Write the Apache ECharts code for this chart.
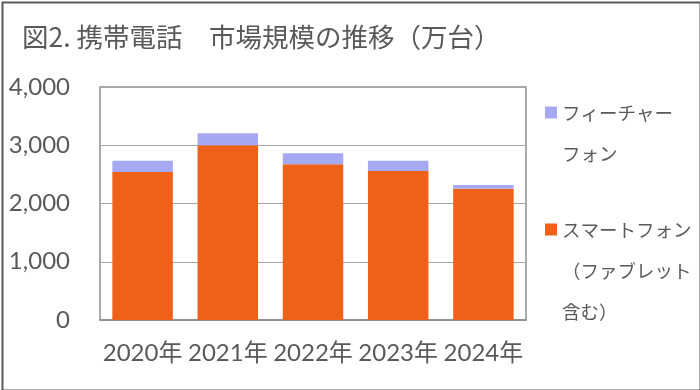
<!DOCTYPE html>
<html>
<head>
<meta charset="utf-8">
<script src="https://cdn.jsdelivr.net/npm/echarts@6/dist/echarts.min.js"></script>
<style>
html,body{margin:0;padding:0;background:#fff;}
#chart{width:700px;height:390px;}
</style>
</head>
<body>
<div id="chart"></div>
<script>
const titleText = '図2. 携帯電話　市場規模の推移（万台）';
const categories = ['2020年', '2021年', '2022年', '2023年', '2024年'];
const smartphone = [2540, 3000, 2675, 2560, 2252];
const featurePhone = [194, 205, 189, 172, 66];
const yTicks = { min: 0, max: 4000, interval: 1000 };
const seriesNames = ['スマートフォン（ファブレット含む）', 'フィーチャーフォン'];
// blank lines above keep the first line level with the legend icon
const legendLabels = [' \n \nスマートフォン\n（ファブレット\n含む）', ' \nフィーチャー\nフォン'];

const textColor = '#595959';
const fontFam = 'Lato, "Noto Sans CJK JP", sans-serif';
const jpFont = '"Noto Sans CJK JP", Lato, sans-serif';
const LH = 41;

const chart = echarts.init(document.getElementById('chart'), null, { renderer: 'canvas' });
chart.setOption({
  animation: false,
  backgroundColor: '#fff',
  title: {
    text: titleText,
    left: 17, top: 19,
    textStyle: { color: textColor, fontSize: 26.5, fontWeight: 'normal', fontFamily: jpFont }
  },
  grid: {
    left: 100, right: 174, top: 87, bottom: 70,
    show: true, borderColor: '#8f8f8f', borderWidth: 1.5, backgroundColor: 'transparent'
  },
  legend: [
    {
      orient: 'vertical', left: 545, top: 51, padding: 0,
      itemWidth: 12, itemHeight: 12, icon: 'rect',
      data: [seriesNames[1]],
      formatter: n => legendLabels[seriesNames.indexOf(n)],
      textStyle: { color: textColor, fontSize: 18.5, lineHeight: LH, fontFamily: jpFont }
    },
    {
      orient: 'vertical', left: 545, top: 127, padding: 0,
      itemWidth: 12, itemHeight: 12, icon: 'rect',
      data: [seriesNames[0]],
      formatter: n => legendLabels[seriesNames.indexOf(n)],
      textStyle: { color: textColor, fontSize: 18.5, lineHeight: LH, fontFamily: jpFont }
    }
  ],
  xAxis: {
    type: 'category',
    data: categories,
    axisLine: { show: true, lineStyle: { color: '#8a8a8a', width: 1.5 } },
    axisTick: { show: false },
    axisLabel: { color: textColor, fontSize: 24, margin: 21, fontFamily: fontFam, interval: 0 }
  },
  yAxis: {
    type: 'value',
    min: yTicks.min, max: yTicks.max, interval: yTicks.interval,
    axisLine: { show: false },
    axisTick: { show: false },
    splitLine: { lineStyle: { color: '#a6a6a6', width: 1.2 } },
    axisLabel: {
      color: textColor, fontSize: 24, margin: 30, fontFamily: fontFam,
      formatter: v => v.toLocaleString('en-US')
    }
  },
  series: [
    {
      name: seriesNames[0], type: 'bar', stack: 'total',
      data: smartphone, barCategoryGap: '29%',
      itemStyle: { color: '#ef6119' }
    },
    {
      name: seriesNames[1], type: 'bar', stack: 'total',
      data: featurePhone, barCategoryGap: '29%',
      itemStyle: { color: '#a5a9f2' }
    }
  ],
  graphic: [{
    type: 'rect', left: 0, top: 0, silent: true, z: 100,
    shape: { x: 1, y: 1, width: 698, height: 388 },
    style: { fill: 'none', stroke: '#5a5a5a', lineWidth: 2 }
  }]
});
</script>
</body>
</html>
